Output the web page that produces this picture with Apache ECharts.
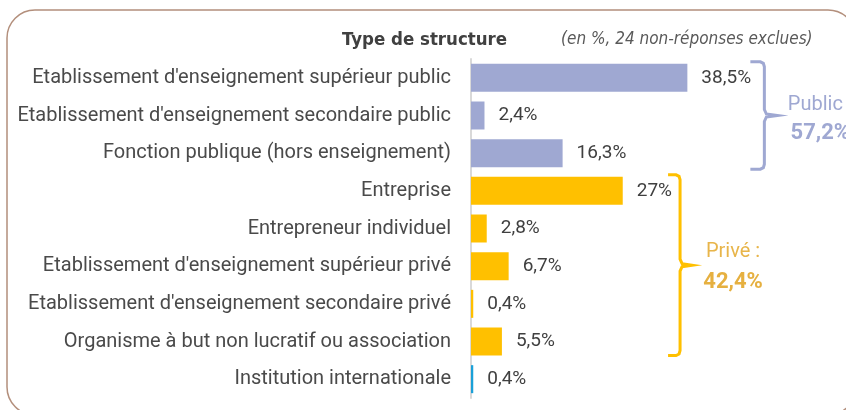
<!DOCTYPE html>
<html>
<head>
<meta charset="utf-8">
<script src="https://cdn.jsdelivr.net/npm/echarts@6/dist/echarts.min.js"></script>
<style>
  html, body { margin: 0; padding: 0; background: #fff; }
  #showChart { width: 846px; height: 410px; }
</style>
</head>
<body>
<div id="showChart"></div>
<script>
var categories = [
    "Etablissement d'enseignement supérieur public",
    "Etablissement d'enseignement secondaire public",
    "Fonction publique (hors enseignement)",
    "Entreprise",
    "Entrepreneur individuel",
    "Etablissement d'enseignement supérieur privé",
    "Etablissement d'enseignement secondaire privé",
    "Organisme à but non lucratif ou association",
    "Institution internationale"
];
var values = [38.5, 2.4, 16.3, 27, 2.8, 6.7, 0.4, 5.5, 0.4];
var groups = ['public', 'public', 'public', 'prive', 'prive', 'prive', 'prive', 'prive', 'intl'];
var groupTotals = {public: '57,2%', prive: '42,4%'};

var colors = {public: '#9fa8d2', prive: '#ffc000', intl: '#1aa0d8'};
var textFont = 'Roboto';

var chartOutChar = null;

var option1 = {
    animation: false,
    grid: {left: 471, right: 94, top: 59, bottom: 12},
    xAxis: {
        type: 'value',
        min: 0,
        max: 50,
        show: false
    },
    yAxis: {
        type: 'category',
        inverse: true,
        data: categories,
        axisLine: {lineStyle: {color: '#d9d9d9', width: 2}},
        axisTick: {length: 5, lineStyle: {color: '#d9d9d9', width: 1.5}},
        axisLabel: {
            margin: 20,
            color: '#4a4a4a',
            fontSize: 20,
            fontFamily: textFont
        }
    },
    series: [
        {
            type: 'bar',
            barWidth: 28,
            data: values.map(function (v, i) {
                return {value: v, itemStyle: {color: colors[groups[i]]}};
            }),
            label: {
                show: true,
                position: 'right',
                distance: 14,
                color: '#404040',
                fontSize: 19,
                fontFamily: textFont,
                formatter: function (p) {
                    return String(p.value).replace('.', ',') + '%';
                }
            }
        }
    ]
};

// build a bracket "]" with a tip in the middle
function bracket(x, top, bot, arm, tip, color) {
    var mid = (top + bot) / 2;
    return {
        type: 'polyline',
        shape: {
            points: [
                [x - arm, top], [x - 4, top], [x - 1, top + 1.5], [x, top + 5],
                [x, mid - 6], [x + 2, mid - 1.5], [x + tip, mid],
                [x + 2, mid + 1.5], [x, mid + 6],
                [x, bot - 5], [x - 1, bot - 1.5], [x - 4, bot], [x - arm, bot]
            ]
        },
        style: {stroke: color, lineWidth: 3, fill: null},
        z: 10
    };
}

//载入图表
window.onload = function () {
    chartOutChar = echarts.init(document.getElementById('showChart'));
    chartOutChar.setOption(option1);

    var c = function (v, i) { return chartOutChar.convertToPixel({gridIndex: 0}, [v, i]); };
    var pubTop = c(0, 0)[1] - 16, pubBot = c(0, 2)[1] + 16;
    var priTop = c(0, 3)[1] - 16, priBot = c(0, 7)[1] + 14;
    var pubX = c(52.2, 0)[0], priX = c(37.2, 0)[0];

    chartOutChar.setOption({
        graphic: [
            {
                type: 'rect',
                shape: {x: 7, y: 10, width: 849, height: 405, r: 28},
                style: {stroke: '#b38f7c', lineWidth: 1.5, fill: null},
                silent: true
            },
            {
                type: 'text',
                x: 342, y: 40,
                style: {
                    text: 'Type de structure', fill: '#404040',
                    font: 'bold 18.5px "DejaVu Sans Condensed"',
                    textVerticalAlign: 'middle'
                }
            },
            {
                type: 'text',
                x: 561, y: 40,
                style: {
                    text: '(en %, 24 non-réponses exclues)', fill: '#595959',
                    font: 'italic 17px "DejaVu Sans Condensed"',
                    textVerticalAlign: 'middle'
                }
            },
            bracket(pubX, pubTop, pubBot, 14, 13, colors.public),
            bracket(priX, priTop, priBot, 12, 12, colors.prive),
            {
                type: 'text',
                x: pubX + 51, y: 105,
                style: {
                    text: 'Public', fill: '#9fa8d2',
                    font: '20px Roboto',
                    textAlign: 'center', textVerticalAlign: 'middle'
                }
            },
            {
                type: 'text',
                x: pubX + 56, y: 133,
                style: {
                    text: groupTotals.public, fill: '#9fa8d2',
                    font: 'bold 22px Roboto',
                    textAlign: 'center', textVerticalAlign: 'middle'
                }
            },
            {
                type: 'text',
                x: priX + 53, y: 252,
                style: {
                    text: 'Privé :', fill: '#e8b54a',
                    font: '20px Roboto',
                    textAlign: 'center', textVerticalAlign: 'middle'
                }
            },
            {
                type: 'text',
                x: priX + 53, y: 282,
                style: {
                    text: groupTotals.prive, fill: '#e6b040',
                    font: 'bold 22px Roboto',
                    textAlign: 'center', textVerticalAlign: 'middle'
                }
            }
        ]
    });
};
</script>
</body>
</html>
